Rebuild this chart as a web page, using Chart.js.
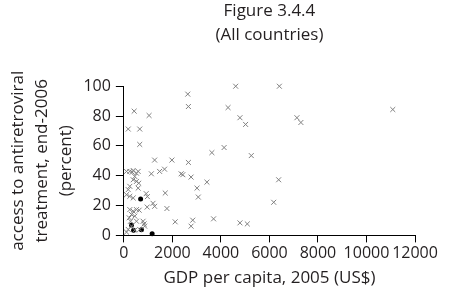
<!DOCTYPE html>
<html>
<head>
<meta charset="utf-8">
<script src="https://cdn.jsdelivr.net/npm/chart.js@4"></script>
<style>
  html, body { margin: 0; padding: 0; background: #fff; }
  #wrap { width: 453px; height: 295px; }
</style>
</head>
<body>
<div id="wrap"><canvas id="myScatter" width="453" height="295"></canvas></div>
<script>
// GDP per capita (US$) and ART access (%)
var gdpGrey = [2634, 2660, 4295, 425, 1039, 180, 654, 654, 1268, 1980, 2660, 3628, 4131,
    4609, 6409, 4785, 5018, 7133, 7297, 11084, 5252, 4785, 5088, 6176, 6380,
    1133, 1473, 1677, 2360, 2430, 2770, 3015, 3068, 3424, 1706, 1775, 2115, 2770, 2838, 3697,
    920, 970, 960, 1202, 1268,
    110, 245, 384, 520, 589, 450, 384, 520, 613, 245, 180, 589, 110, 245, 384, 344,
    245, 384, 520, 630, 315, 220, 450, 274, 520, 793, 315, 859, 180, 654, 450, 110, 834
];
var accessGrey = [94.7, 86.4, 85.7, 83.3, 80.4, 71.3, 71.3, 61, 50.5, 50.5, 48.9, 55.5, 58.9,
    100, 100, 78.9, 74.4, 78.9, 75.7, 84.4, 53.5, 8.4, 7.7, 22.2, 37.3,
    41.3, 42.9, 44.4, 41.3, 40.7, 39.1, 31.7, 25.7, 35.7, 28.4, 18, 9.1, 6.2, 10.2, 11.1,
    28, 26, 19, 21.5, 19.5,
    42.9, 42.9, 43.5, 41.7, 42.9, 39.5, 37.3, 36.2, 35, 32.9, 30.7, 31.7, 27.3, 26.2, 25.1, 42.4,
    17.3, 16.2, 17.3, 16.9, 14, 11.8, 12.9, 9.5, 9.5, 9.5, 6.2, 6.2, 4, 4, 3.5, 2.2, 7.7
];
var gdpBlack = [690, 315, 400, 724, 1165];
var accessBlack = [24.4, 6.9, 3.4, 3.8, 1.1];

var xTicks = [0, 2000, 4000, 6000, 8000, 10000, 12000];
var yTicks = [0, 20, 40, 60, 80, 100];

function toPoints(xs, ys) {
    return xs.map(function (x, i) { return { x: x, y: ys[i] }; });
}

var family = "'Open Sans', 'DejaVu Sans', sans-serif";
var tickFont = { family: family, size: 16 };
var font = { family: family, size: 17 };
var ink = '#231f20';

const data = {
    datasets: [{
        data: toPoints(gdpGrey, accessGrey),
        pointStyle: 'crossRot',
        radius: 3.5,
        borderColor: '#808080',
        borderWidth: 1,
        clip: false
    },
    {
        data: toPoints(gdpBlack, accessBlack),
        pointStyle: 'circle',
        radius: 2.5,
        backgroundColor: '#000',
        borderColor: '#000',
        borderWidth: 0,
        clip: false
    }]
};

const config = {
    type: 'scatter',
    data: data,
    options: {
        responsive: false,
        animation: false,
        layout: { padding: { left: 6, right: 38, top: 0, bottom: 7 } },
        plugins: {
            legend: { display: false },
            tooltip: { enabled: false },
            title: {
                display: true,
                fullSize: false,
                text: ['Figure 3.4.4', '(All countries)'],
                color: ink,
                font: { family: family, size: 17, weight: 'normal', lineHeight: 1.36 },
                padding: { top: 0, bottom: 40 }
            }
        },
        scales: {
            x: {
                type: 'linear',
                min: 0,
                max: 12000,
                afterBuildTicks: function (axis) { axis.ticks = xTicks.map(function (v) { return { value: v }; }); },
                grid: { drawOnChartArea: false, drawTicks: true, tickLength: 7, color: '#000', lineWidth: 1 },
                border: { color: '#000', width: 1 },
                ticks: {
                    color: ink, font: tickFont, padding: 1, maxRotation: 0, autoSkip: false,
                    callback: function (v) { return String(v); }
                },
                title: { display: true, text: 'GDP per capita, 2005 (US$)', color: ink, font: font, padding: { top: 4, bottom: 0 } }
            },
            y: {
                type: 'linear',
                min: 0,
                max: 100,
                afterBuildTicks: function (axis) { axis.ticks = yTicks.map(function (v) { return { value: v }; }); },
                grid: { drawOnChartArea: false, drawTicks: true, tickLength: 8, color: '#000', lineWidth: 1 },
                border: { color: '#000', width: 1 },
                ticks: {
                    color: ink, font: tickFont, padding: 5, autoSkip: false,
                    callback: function (v) { return String(v); }
                },
                title: {
                    display: true,
                    text: ['access to antiretroviral', 'treatment, end-2006', '(percent)'],
                    color: ink,
                    font: { family: family, size: 17, lineHeight: 1.42 },
                    padding: { top: 0, bottom: 0 }
                }
            }
        }
    }
};

var ctx = document.getElementById('myScatter').getContext('2d');
var myScatter = new Chart(ctx, config);
</script>
</body>
</html>
